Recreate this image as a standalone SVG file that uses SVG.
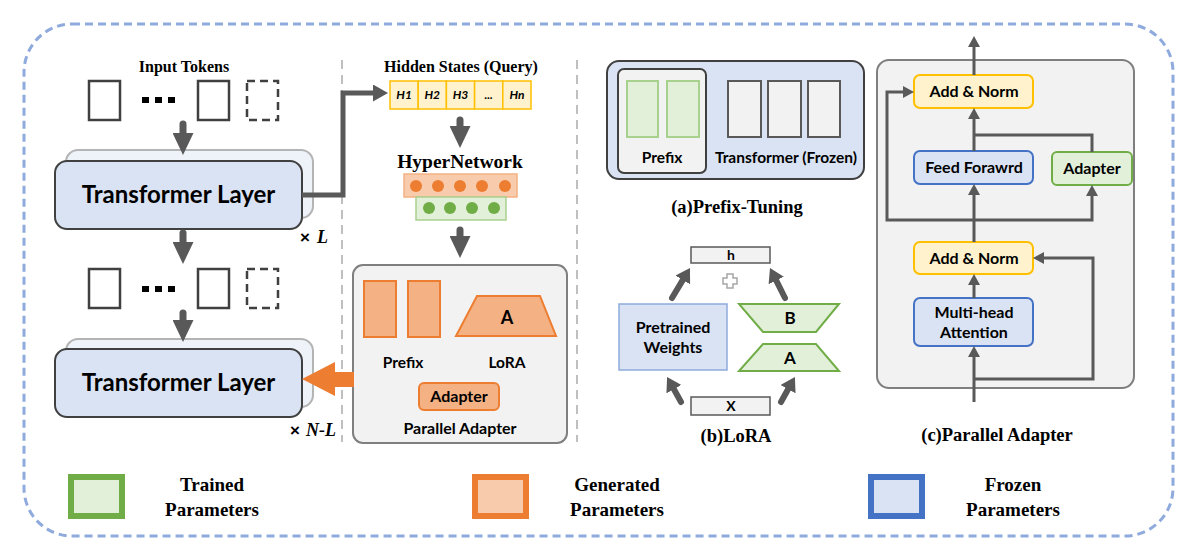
<svg xmlns="http://www.w3.org/2000/svg" width="1196" height="559" viewBox="0 0 1196 559">
<defs>
<style>
.serif{font-family:"Liberation Serif","Times New Roman",serif;font-weight:bold;fill:#000}
.sans{font-family:Lato,"Liberation Sans",sans-serif;font-weight:bold;fill:#000}
.tok{fill:#fff;stroke:#404040;stroke-width:2.5}
.dtok{fill:#fff;stroke:#404040;stroke-width:2.5;stroke-dasharray:8 5}
.sep{stroke:#bfbfbf;stroke-width:2;stroke-dasharray:9 6;fill:none}
.big{stroke:#595959;stroke-width:7;fill:none;stroke-linecap:round}
.med{stroke:#595959;stroke-width:5;fill:none}
.lora{stroke:#595959;stroke-width:6;fill:none;stroke-linecap:round}
.thin{stroke:#595959;stroke-width:3;fill:none}
.tl{fill:#dae3f3;stroke:#404040;stroke-width:2}
.tlsh{fill:#eef2f9;stroke:#b4b4b4;stroke-width:2}
.hs{fill:#fff2cc;stroke:#ffc000;stroke-width:1.5}
.org{fill:#f4b183;stroke:#ed7d31;stroke-width:2}
.grn{fill:#e2f0d9;stroke:#70ad47;stroke-width:2}
.gry{fill:#f2f2f2;stroke:#595959;stroke-width:2}
.panel{fill:#f2f2f2;stroke:#7f7f7f;stroke-width:2}
.yel{fill:#fff2cc;stroke:#ffc000;stroke-width:2}
.blu{fill:#dae3f3;stroke:#4472c4;stroke-width:2}
</style>
<marker id="hd" viewBox="0 0 22 21" markerWidth="22" markerHeight="21" refX="2" refY="10.5" markerUnits="userSpaceOnUse" orient="auto"><path d="M0,0 L22,10.5 L0,21 z" fill="#595959"/></marker>
<marker id="hm" viewBox="0 0 15 17" markerWidth="15" markerHeight="17" refX="2" refY="8.5" markerUnits="userSpaceOnUse" orient="auto"><path d="M0,0 L15,8.5 L0,17 z" fill="#595959"/></marker>
<marker id="hl" viewBox="0 0 14 17" markerWidth="14" markerHeight="17" refX="1" refY="8.5" markerUnits="userSpaceOnUse" orient="auto"><path d="M0,0 L14,8.5 L0,17 z" fill="#595959"/></marker>
<marker id="hs" viewBox="0 0 11 12" markerWidth="11" markerHeight="12" refX="1" refY="6" markerUnits="userSpaceOnUse" orient="auto"><path d="M0,0 L11,6 L0,12 z" fill="#595959"/></marker>
</defs>
<rect width="1196" height="559" fill="#fff"/>
<rect id="frame" x="24" y="24" width="1149" height="512" rx="48" fill="none" stroke="#8faadc" stroke-width="3" stroke-dasharray="8 5"/>
<line class="sep" x1="342" y1="60" x2="342" y2="442"/>
<line class="sep" x1="577" y1="60" x2="577" y2="442"/>

<g id="input-tokens">
<text class="serif" x="184" y="72" font-size="16" text-anchor="middle">Input Tokens</text>
<rect class="tok" x="89" y="81" width="31" height="39"/>
<rect x="142" y="97" width="7" height="6" fill="#000"/><rect x="155" y="97" width="7" height="6" fill="#000"/><rect x="168" y="97" width="7" height="6" fill="#000"/>
<rect class="tok" x="198" y="81" width="31" height="39"/>
<rect class="dtok" x="247" y="81" width="31" height="39"/>
</g>
<g id="transformer-layer-1">
<rect class="tlsh" x="66" y="150" width="247" height="68" rx="12"/>
<rect class="tl" x="55" y="161" width="247" height="68" rx="12"/>
<text class="sans" x="178.5" y="203" font-size="24" text-anchor="middle">Transformer Layer</text>
<text x="300" y="243" font-family="Liberation Sans,sans-serif" font-weight="bold" font-size="17" fill="#000">×</text>
<text x="317" y="243" font-family="Liberation Serif,serif" font-weight="bold" font-style="italic" font-size="18" fill="#000">L</text>
</g>
<g id="mid-tokens">
<rect class="tok" x="89" y="269" width="31" height="39"/>
<rect x="142" y="286" width="7" height="6" fill="#000"/><rect x="155" y="286" width="7" height="6" fill="#000"/><rect x="168" y="286" width="7" height="6" fill="#000"/>
<rect class="tok" x="198" y="269" width="31" height="39"/>
<rect class="dtok" x="247" y="269" width="31" height="39"/>
</g>
<g id="transformer-layer-2">
<rect class="tlsh" x="66" y="339" width="247" height="68" rx="12"/>
<rect class="tl" x="55" y="349" width="247" height="68" rx="12"/>
<text class="sans" x="178.5" y="391" font-size="24" text-anchor="middle">Transformer Layer</text>
<text x="290" y="436" font-family="Liberation Sans,sans-serif" font-weight="bold" font-size="17" fill="#000">×</text>
<text x="306" y="436" font-family="Liberation Serif,serif" font-weight="bold" font-style="italic" font-size="18" fill="#000">N-L</text>
</g>

<g id="hidden-states">
<text class="serif" x="461" y="72" font-size="16" text-anchor="middle">Hidden States (Query)</text>
<rect class="hs" x="390" y="81" width="28.2" height="28"/>
<rect class="hs" x="418.2" y="81" width="28.2" height="28"/>
<rect class="hs" x="446.4" y="81" width="28.2" height="28"/>
<rect class="hs" x="474.6" y="81" width="28.2" height="28"/>
<rect class="hs" x="502.8" y="81" width="28.2" height="28"/>
<g font-family="Lato,Liberation Sans,sans-serif" font-weight="bold" font-style="italic" font-size="12" text-anchor="middle" fill="#000">
<text x="404.1" y="99">H1</text><text x="432.3" y="99">H2</text><text x="460.5" y="99">H3</text><text x="488.7" y="99">...</text><text x="516.9" y="99">Hn</text>
</g>
</g>
<g id="hypernetwork">
<text class="serif" x="460" y="168" font-size="19.5" text-anchor="middle">HyperNetwork</text>
<rect x="404" y="174" width="113" height="23" fill="#f8cbad" stroke="#f4b183" stroke-width="1.5"/>
<g fill="#ed7d31"><circle cx="416" cy="186" r="6"/><circle cx="438" cy="186" r="6"/><circle cx="460" cy="186" r="6"/><circle cx="482" cy="186" r="6"/><circle cx="505" cy="186" r="6"/></g>
<rect x="416" y="197" width="90" height="23" fill="#e2f0d9" stroke="#a9d18e" stroke-width="1.5"/>
<g fill="#70ad47"><circle cx="429" cy="208" r="6"/><circle cx="450" cy="208" r="6"/><circle cx="472" cy="208" r="6"/><circle cx="494" cy="208" r="6"/></g>
</g>
<g id="generated-modules">
<rect class="panel" x="353" y="265" width="214" height="178" rx="10"/>
<rect class="org" x="364" y="281" width="32" height="56"/>
<rect class="org" x="408" y="281" width="32" height="56"/>
<path class="org" d="M477,296 L540,296 L556,336 L456,336 Z"/>
<text class="sans" x="507" y="324" font-size="18" text-anchor="middle">A</text>
<text class="sans" x="403" y="368" font-size="15.5" text-anchor="middle">Prefix</text>
<text class="sans" x="507" y="368" font-size="15.5" text-anchor="middle">LoRA</text>
<rect class="org" x="419" y="383" width="80" height="27" rx="5"/>
<text class="sans" x="459" y="402" font-size="16" text-anchor="middle">Adapter</text>
<text class="sans" x="460" y="434" font-size="16" text-anchor="middle">Parallel Adapter</text>
</g>

<g id="prefix-tuning">
<rect class="tl" x="607" y="61" width="257" height="118" rx="12"/>
<rect x="618" y="69" width="88" height="104" rx="6" fill="#f2f2f2" stroke="#404040" stroke-width="2"/>
<rect x="627" y="81" width="31" height="56" fill="#e2f0d9" stroke="#a9d18e" stroke-width="2"/>
<rect x="667" y="81" width="32" height="56" fill="#e2f0d9" stroke="#a9d18e" stroke-width="2"/>
<rect class="gry" x="728" y="81" width="33" height="56"/>
<rect class="gry" x="768" y="81" width="33" height="56"/>
<rect class="gry" x="808" y="81" width="32" height="56"/>
<text class="sans" x="662" y="163" font-size="15.5" text-anchor="middle">Prefix</text>
<text class="sans" x="786" y="163" font-size="15.5" text-anchor="middle">Transformer (Frozen)</text>
<text class="serif" x="737" y="213" font-size="18.5" text-anchor="middle">(a)Prefix-Tuning</text>
</g>
<g id="lora">
<rect x="691" y="247" width="79" height="16" fill="#f2f2f2" stroke="#595959" stroke-width="1.5"/>
<text class="sans" x="731" y="260" font-size="14" text-anchor="middle">h</text>
<path d="M727,274 h6 v4 h4 v6 h-4 v4 h-6 v-4 h-4 v-6 h4 z" fill="#fff" stroke="#a6a6a6" stroke-width="1.5"/>
<rect x="619" y="304" width="108" height="66" fill="#dae3f3" stroke="#8faadc" stroke-width="1.5"/>
<text class="sans" x="673" y="333" font-size="16" text-anchor="middle">Pretrained</text>
<text class="sans" x="673" y="353" font-size="16" text-anchor="middle">Weights</text>
<path class="grn" d="M739,304 L839,304 L816,332 L763,332 Z"/>
<text class="sans" x="790" y="324" font-size="17" text-anchor="middle">B</text>
<path class="grn" d="M763,344 L816,344 L839,371 L739,371 Z"/>
<text class="sans" x="790" y="364" font-size="17" text-anchor="middle">A</text>
<rect x="691" y="397" width="79" height="18" fill="#f2f2f2" stroke="#595959" stroke-width="1.5"/>
<text class="sans" x="731" y="411" font-size="14" text-anchor="middle">X</text>
<text class="serif" x="736" y="442" font-size="18.5" text-anchor="middle">(b)LoRA</text>
</g>
<g id="parallel-adapter">
<rect class="panel" x="877" y="60" width="257" height="328" rx="12"/>
<rect class="yel" x="914" y="75" width="119" height="33" rx="6"/>
<text class="sans" x="974" y="97" font-size="16" text-anchor="middle">Add &amp; Norm</text>
<rect class="blu" x="914" y="151" width="119" height="33" rx="6"/>
<text class="sans" x="974" y="173" font-size="16" text-anchor="middle">Feed Forawrd</text>
<rect class="grn" x="1052" y="152" width="80" height="33" rx="5"/>
<text class="sans" x="1092" y="174" font-size="16" text-anchor="middle">Adapter</text>
<rect class="yel" x="914" y="242" width="119" height="32" rx="6"/>
<text class="sans" x="974" y="264" font-size="16" text-anchor="middle">Add &amp; Norm</text>
<rect class="blu" x="914" y="298" width="119" height="48" rx="6"/>
<text class="sans" x="974" y="318" font-size="16" text-anchor="middle">Multi-head</text>
<text class="sans" x="974" y="338" font-size="16" text-anchor="middle">Attention</text>
<text class="serif" x="997" y="441" font-size="18.5" text-anchor="middle">(c)Parallel Adapter</text>
</g>

<g id="connectors">
<line class="big" x1="183" y1="124" x2="183" y2="135" marker-end="url(#hd)"/>
<line class="big" x1="183" y1="233" x2="183" y2="244" marker-end="url(#hd)"/>
<line class="big" x1="183" y1="313" x2="183" y2="322" marker-end="url(#hd)"/>
<path class="med" d="M302,195 H343 V93 H375" marker-end="url(#hm)"/>
<line class="big" x1="460" y1="120" x2="460" y2="128" marker-end="url(#hd)"/>
<line class="big" x1="460" y1="230" x2="460" y2="238" marker-end="url(#hd)"/>
<polygon points="354,372 335,372 335,362 302,379 335,396 335,387 354,387" fill="#ed7d31"/>
<line class="lora" x1="672" y1="298" x2="683.3" y2="279.1" marker-end="url(#hl)"/>
<line class="lora" x1="785" y1="298" x2="775.8" y2="279.6" marker-end="url(#hl)"/>
<line class="lora" x1="681" y1="402" x2="673.4" y2="388.3" marker-end="url(#hl)"/>
<line class="lora" x1="781" y1="402" x2="788.6" y2="388.3" marker-end="url(#hl)"/>
<line class="thin" x1="974" y1="75" x2="974" y2="46" marker-end="url(#hs)"/>
<line class="thin" x1="974" y1="151" x2="974" y2="118" marker-end="url(#hs)"/>
<path class="thin" d="M1092,152 V135 H974"/>
<line class="thin" x1="974" y1="242" x2="974" y2="194" marker-end="url(#hs)"/>
<path class="thin" d="M974,220 H887 V92 H904" marker-end="url(#hs)"/>
<path class="thin" d="M974,220 H1092 V195" marker-end="url(#hs)"/>
<line class="thin" x1="974" y1="298" x2="974" y2="284" marker-end="url(#hs)"/>
<line class="thin" x1="974" y1="402" x2="974" y2="356" marker-end="url(#hs)"/>
<path class="thin" d="M974,379 H1093 V258 H1043" marker-end="url(#hs)"/>
</g>

<g id="legend">
<rect x="71" y="477" width="51" height="39" fill="#e2f0d9" stroke="#70ad47" stroke-width="6"/>
<text class="serif" x="212" y="491" font-size="19" text-anchor="middle">Trained</text>
<text class="serif" x="212" y="516" font-size="19" text-anchor="middle">Parameters</text>
<rect x="475" y="477" width="51" height="39" fill="#f8cbad" stroke="#ed7d31" stroke-width="6"/>
<text class="serif" x="617" y="491" font-size="19" text-anchor="middle">Generated</text>
<text class="serif" x="617" y="516" font-size="19" text-anchor="middle">Parameters</text>
<rect x="871" y="477" width="51" height="39" fill="#dae3f3" stroke="#4472c4" stroke-width="6"/>
<text class="serif" x="1013" y="491" font-size="19" text-anchor="middle">Frozen</text>
<text class="serif" x="1013" y="516" font-size="19" text-anchor="middle">Parameters</text>
</g>
</svg>
